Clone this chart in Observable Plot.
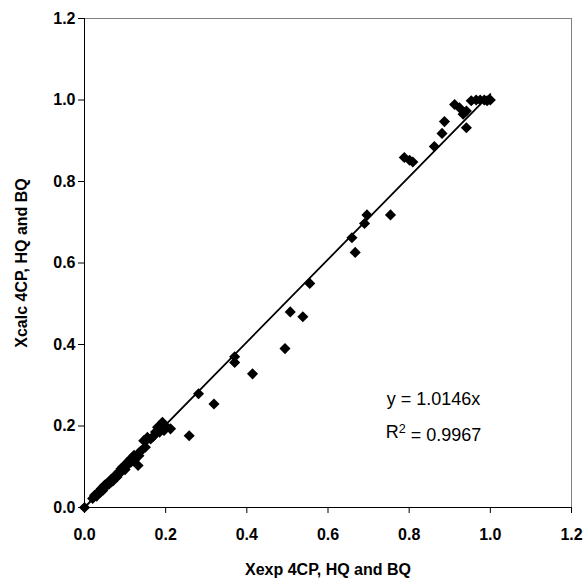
<!DOCTYPE html>
<html><head><meta charset="utf-8">
<script src="https://cdn.jsdelivr.net/npm/d3@7"></script>
<script src="https://cdn.jsdelivr.net/npm/@observablehq/plot@0.6"></script>
<style>body{margin:0;background:#fff;}</style>
</head><body><div id="chart"></div>
<script>
const xExp = [0,
 0.020,0.025,0.030,0.030,0.035,0.040,0.040,0.045,0.045,0.050,0.050,0.055,0.060,0.060,0.065,0.065,0.070,0.070,0.075,0.080,0.080,0.085,0.085,0.090,0.090,0.095,0.100,0.100,0.105,0.110,0.110,0.115,0.115,0.120,0.122,0.122,0.125,0.130,0.132,0.134,0.135,0.140,
 0.146,0.150,0.155,0.163,0.170,0.175,0.180,0.185,0.190,0.192,0.196,0.200,0.212,0.258,0.281,0.319,
 0.370,0.370,0.414,0.494,0.507,0.538,0.555,0.659,0.667,0.690,0.696,0.754,
 0.788,0.801,0.809,0.862,0.881,0.887,0.912,0.924,0.933,0.941,0.941,0.953,0.965,0.975,0.985,0.992,1.000];
const yCalc = [0,
 0.022,0.030,0.033,0.028,0.037,0.045,0.038,0.048,0.042,0.050,0.055,0.058,0.063,0.057,0.068,0.062,0.072,0.065,0.078,0.080,0.075,0.088,0.082,0.090,0.095,0.100,0.100,0.093,0.110,0.108,0.115,0.120,0.112,0.118,0.128,0.115,0.120,0.125,0.103,0.127,0.135,0.140,
 0.164,0.148,0.172,0.168,0.175,0.185,0.197,0.185,0.200,0.209,0.189,0.200,0.193,0.176,0.279,0.254,
 0.370,0.356,0.328,0.390,0.480,0.468,0.550,0.662,0.626,0.697,0.718,0.718,
 0.859,0.852,0.848,0.886,0.918,0.947,0.989,0.981,0.965,0.932,0.973,0.998,1.000,1.000,1.000,0.998,1.000];
const slope = 1.0146;
const rSquared = 0.9967;
const tickValues = [0, 0.2, 0.4, 0.6, 0.8, 1.0, 1.2];
const xTitle = "Xexp 4CP, HQ and BQ";
const yTitle = "Xcalc 4CP, HQ and BQ";

const points = xExp.map((x, i) => ({x, y: yCalc[i]}));
const trend = [0, d3.max(xExp)].map(x => ({x, y: slope * x}));
const fmt = d3.format(".1f");
const font = "'Liberation Sans', Arial, sans-serif";

const chart = Plot.plot({
  width: 587, height: 585,
  marginLeft: 84, marginRight: 16, marginTop: 18, marginBottom: 78,
  style: {fontFamily: font, fontSize: "16px", background: "#fff", color: "#000"},
  x: {domain: [0, 1.2]},
  y: {domain: [0, 1.2]},
  marks: [
    Plot.frame({stroke: "#808080"}),
    Plot.axisX({ticks: tickValues, tickFormat: fmt, tickSize: 6, tickPadding: 15, fontSize: 16, fontWeight: "bold", label: null}),
    Plot.axisY({ticks: tickValues, tickFormat: fmt, tickSize: 6, tickPadding: 3, fontSize: 16, fontWeight: "bold", label: null}),
    Plot.ruleX([0], {stroke: "#000"}),
    Plot.ruleY([0], {stroke: "#000"}),
    Plot.line(trend, {x: "x", y: "y", stroke: "#000", strokeWidth: 1.8}),
    Plot.dot(points, {x: "x", y: "y", symbol: "diamond2", r: 5, fill: "#000", stroke: "none"}),
    Plot.text([`y = ${slope}x`], {x: 0.86, y: 0.265, text: d => d, fontSize: 18, fill: "#000"}),
    Plot.text([`R2 = ${rSquared}`], {x: 0.86, y: 0.184, text: d => d, fontSize: 18, fill: "#000"}),
    Plot.text([xTitle], {frameAnchor: "bottom", dy: 67, text: d => d, fontSize: 16, fontWeight: "bold", fill: "#000"}),
    Plot.text([yTitle], {frameAnchor: "left", dx: -63, rotate: -90, textAnchor: "middle", text: d => d, fontSize: 16, fontWeight: "bold", fill: "#000"})
  ]
});
// superscript the 2 in R2
d3.select(chart).selectAll("text").filter(function() { return this.textContent === `R2 = ${rSquared}`; })
  .each(function() {
    const t = d3.select(this);
    t.text(null);
    t.append("tspan").text("R");
    t.append("tspan").attr("dy", "-0.45em").attr("font-size", "0.7em").text("2");
    t.append("tspan").attr("dy", "0.45em").text(` = ${rSquared}`);
  });
document.getElementById("chart").append(chart);
</script>
</body></html>
